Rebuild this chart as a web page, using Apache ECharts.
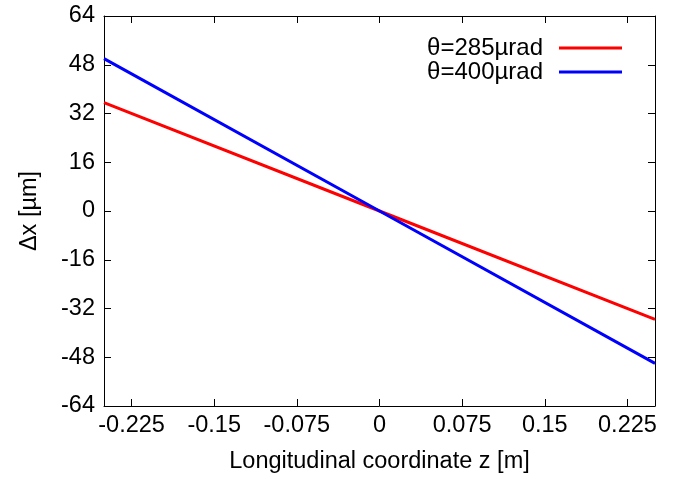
<!DOCTYPE html>
<html>
<head>
<meta charset="utf-8">
<script src="https://cdn.jsdelivr.net/npm/echarts@6/dist/echarts.min.js"></script>
<style>
html,body{margin:0;padding:0;background:#fff;}
#chart{width:688px;height:479px;}
</style>
</head>
<body>
<div id="chart"></div>
<script>
const zValues = [-0.25, 0, 0.25];
const dx285 = [35.6, 0, -35.6];
const dx400 = [50, 0, -50];
const xTickValues = [-0.225, -0.15, -0.075, 0, 0.075, 0.15, 0.225];
const seriesNames = ['θ=285µrad', 'θ=400µrad'];

const FONT = 'Liberation Sans, Arial, Helvetica, sans-serif';
const FS = 23.5;
const pairs = (ys) => zValues.map((z, i) => [z, ys[i]]);

const chart = echarts.init(document.getElementById('chart'), null, {renderer: 'canvas'});
const axisCommon = {
  axisLine: {show: true, onZero: false, lineStyle: {color: '#000', width: 1}},
  splitLine: {show: false}
};
chart.setOption({
  animation: false,
  backgroundColor: '#fff',
  grid: {left: 104, right: 33, top: 16, bottom: 68, containLabel: false},
  legend: {
    orient: 'vertical',
    right: 61,
    top: 31,
    align: 'right',
    icon: 'rect',
    itemWidth: 63,
    itemHeight: 3,
    itemGap: 0,
    textStyle: {fontFamily: FONT, fontSize: 24, lineHeight: 24, color: '#000', padding: [0, 11, 0, 0]},
    data: seriesNames
  },
  xAxis: [{
    type: 'value', min: -0.25, max: 0.25, position: 'bottom',
    ...axisCommon,
    axisTick: {show: true, inside: true, length: 7, customValues: xTickValues, lineStyle: {color: '#000'}},
    axisLabel: {show: true, customValues: xTickValues, margin: 8, fontFamily: FONT, fontSize: FS, color: '#000',
      formatter: (v) => String(Math.round(v * 1000) / 1000)},
    name: 'Longitudinal coordinate z [m]', nameLocation: 'middle', nameGap: 44,
    nameTextStyle: {fontFamily: FONT, fontSize: FS, color: '#000'}
  }, {
    type: 'value', min: -0.25, max: 0.25, position: 'top',
    ...axisCommon,
    axisTick: {show: true, inside: true, length: 7, customValues: xTickValues, lineStyle: {color: '#000'}},
    axisLabel: {show: false}
  }],
  yAxis: [{
    type: 'value', min: -64, max: 64, interval: 16, position: 'left',
    ...axisCommon,
    axisTick: {show: true, inside: true, length: 7, lineStyle: {color: '#000'}},
    axisLabel: {show: true, margin: 9, fontFamily: FONT, fontSize: FS, color: '#000'},
    name: 'Δx [µm]', nameLocation: 'middle', nameGap: 62, nameRotate: 90,
    nameTextStyle: {fontFamily: FONT, fontSize: FS, color: '#000'}
  }, {
    type: 'value', min: -64, max: 64, interval: 16, position: 'right',
    ...axisCommon,
    axisTick: {show: true, inside: true, length: 7, lineStyle: {color: '#000'}},
    axisLabel: {show: false}
  }],
  series: [{
    name: seriesNames[0], type: 'line', data: pairs(dx285), showSymbol: false,
    color: '#ff0000', lineStyle: {color: '#ff0000', width: 3}
  }, {
    name: seriesNames[1], type: 'line', data: pairs(dx400), showSymbol: false,
    color: '#0000ff', lineStyle: {color: '#0000ff', width: 3}
  }]
});
</script>
</body>
</html>
